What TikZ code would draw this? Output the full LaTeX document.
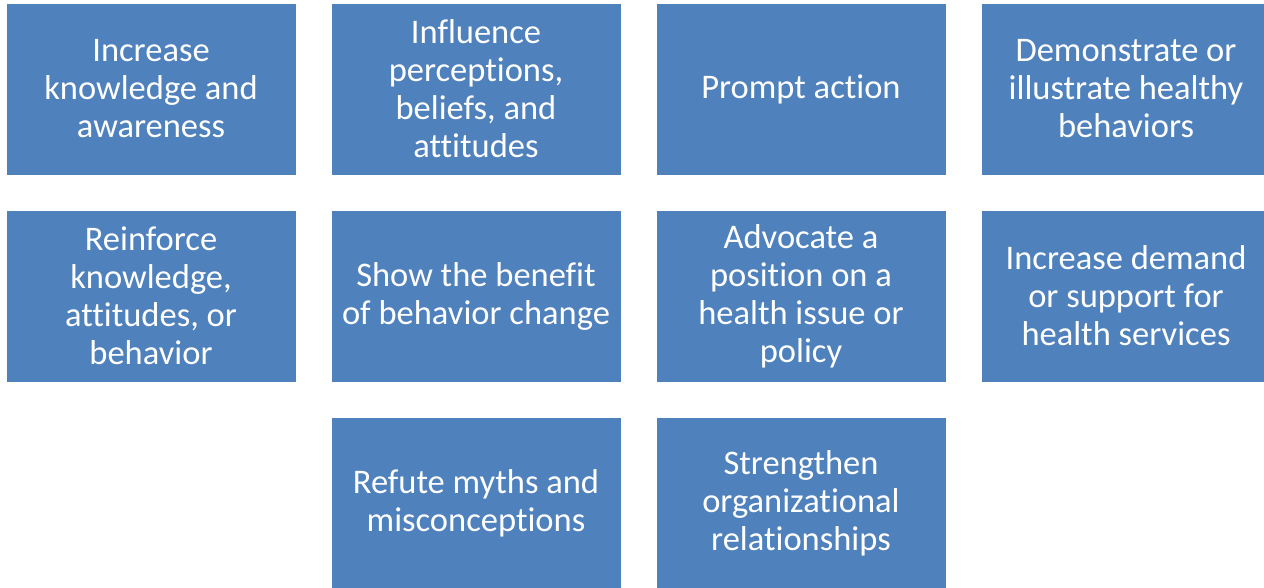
\documentclass[tikz,border=0pt]{standalone}
\usepackage{fontspec}
\setmainfont{Carlito}[Ligatures={NoCommon}]
\usepackage[svgnames]{xcolor}
\usepackage{tikz}
\definecolor{goalblue}{HTML}{4F81BD}

\begin{document}
\begin{tikzpicture}[x=1pt,y=-1pt,
			goal/.style={rectangle,fill=goalblue,draw=white,line width=.6pt,
				minimum width=290pt,minimum height=172pt,inner sep=0pt,
				text=white,align=center,
				font=\fontsize{34.5}{38}\selectfont}]
		\useasboundingbox (0,0) rectangle (1264,588);
		\clip (0,0) rectangle (1264,588);
		% first row
		\node[goal] (knowledge) at (151,89) {Increase\\knowledge and\\awareness};
		\node[goal] (perceptions) at (476,89) {Influence\\perceptions,\\beliefs, and\\attitudes};
		\node[goal] (action) at (801,89) {Prompt action};
		\node[goal] (demonstrate) at (1126,89) {Demonstrate or\\illustrate healthy\\behaviors};
		% second row
		\node[goal] (reinforce) at (151,296) {Reinforce\\knowledge,\\attitudes, or\\behavior};
		\node[goal] (benefit) at (476,296) {Show the benefit\\of behavior change};
		\node[goal] (advocate) at (801,296) {Advocate a\\position on a\\health issue or\\policy};
		\node[goal] (demand) at (1126,296) {Increase demand\\or support for\\health services};
		% third row
		\node[goal] (myths) at (476,503) {Refute myths and\\misconceptions};
		\node[goal] (relations) at (801,503) {Strengthen\\organizational\\relationships};
\end{tikzpicture}
\end{document}
